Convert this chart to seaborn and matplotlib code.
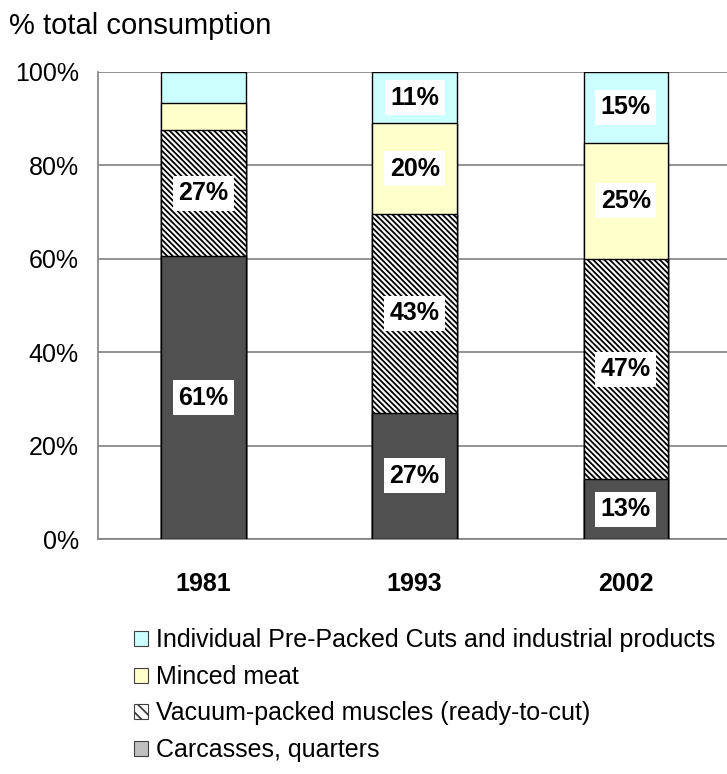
import numpy as np
import pandas as pd
import matplotlib
matplotlib.use('Agg')
import matplotlib.pyplot as plt
import seaborn as sns
from matplotlib.patches import Patch

sns.set_style('white')
plt.rcParams['font.family'] = ['Liberation Sans', 'DejaVu Sans']
plt.rcParams['text.color'] = 'black'
plt.rcParams['xtick.color'] = 'black'
plt.rcParams['ytick.color'] = 'black'
plt.rcParams['hatch.linewidth'] = 1.3

## data (% of total consumption)
years = ['1981', '1993', '2002']
carcasses = [60.5, 27.0, 12.8]
vacuum = [27.0, 42.6, 47.2]
minced = [5.8, 19.4, 24.8]
cuts = [6.7, 11.0, 15.2]

## shown labels (None = no label)
carcasses_lbl = ['61%', '27%', '13%']
vacuum_lbl = ['27%', '43%', '47%']
minced_lbl = [None, '20%', '25%']
cuts_lbl = [None, '11%', '15%']

legend_names = ['Individual Pre-Packed Cuts and industrial products',
                'Minced meat',
                'Vacuum-packed muscles (ready-to-cut)',
                'Carcasses, quarters']

df = pd.DataFrame({'year': years, 'carcasses': carcasses, 'vacuum': vacuum,
                   'minced': minced, 'cuts': cuts})
df['c1'] = df['carcasses']
df['c2'] = df['c1'] + df['vacuum']
df['c3'] = df['c2'] + df['minced']
df['c4'] = df['c3'] + df['cuts']

fig = plt.figure(figsize=(7.27, 7.74), dpi=100)
ax = fig.add_axes([0.135, 0.3036, 0.865, 0.6034])

HATCH = '\\' * 6

## draw cumulative bars largest first so they stack
layers = [('c4', '#ccffff', None), ('c3', '#ffffcc', None),
          ('c2', 'white', HATCH), ('c1', '#505050', None)]
for col, color, hatch in layers:
    sns.barplot(data=df, x='year', y=col, color=color, width=0.4,
                edgecolor='black', linewidth=1.0, saturation=1, ax=ax,
                hatch=hatch, zorder=3)

ax.set_xlim(-0.5, 2.48)
ax.set_ylim(0, 100)
ax.set_yticks(np.arange(0, 101, 20))
ax.set_yticklabels(['%d%%' % v for v in range(0, 101, 20)], fontsize=18)
ax.yaxis.grid(True, color='#808080', linewidth=1.2, zorder=0)
ax.set_axisbelow(True)
ax.set_xlabel('')
ax.set_ylabel('')
for s in ['top', 'right']:
    ax.spines[s].set_visible(False)
for s in ['left', 'bottom']:
    ax.spines[s].set_color('#808080')
    ax.spines[s].set_linewidth(1.2)
ax.tick_params(axis='y', length=0, pad=14)
ax.tick_params(axis='x', length=0, pad=24)
for t in ax.get_xticklabels():
    t.set_fontsize(18)
    t.set_fontweight('bold')

## segment labels
bottoms = [np.zeros(3), df['c1'].values, df['c2'].values, df['c3'].values]
heights = [carcasses, vacuum, minced, cuts]
labels = [carcasses_lbl, vacuum_lbl, minced_lbl, cuts_lbl]
for b, h, lbls in zip(bottoms, heights, labels):
    for i in range(3):
        if lbls[i] is None:
            continue
        ax.text(i, b[i] + h[i] / 2, lbls[i], ha='center', va='center',
                fontsize=18, fontweight='bold', zorder=5,
                bbox=dict(boxstyle='square,pad=0.22', fc='white', ec='none'))

fig.text(0.012, 0.967, '% total consumption', fontsize=21, va='center', ha='left')

handles = [Patch(fc='#ccffff', ec='#404040', lw=0.8),
           Patch(fc='#ffffcc', ec='#404040', lw=0.8),
           Patch(fc='white', ec='#404040', lw=0.8, hatch='\\\\\\'),
           Patch(fc='#c0c0c0', ec='#404040', lw=0.8)]
fig.legend(handles, legend_names, loc='upper left', bbox_to_anchor=(0.185, 0.188),
           frameon=False, fontsize=18, handlelength=0.55, handleheight=0.55,
           handletextpad=0.3, labelspacing=0.5, borderaxespad=0, borderpad=0)

fig.savefig('out.png', dpi=100)
